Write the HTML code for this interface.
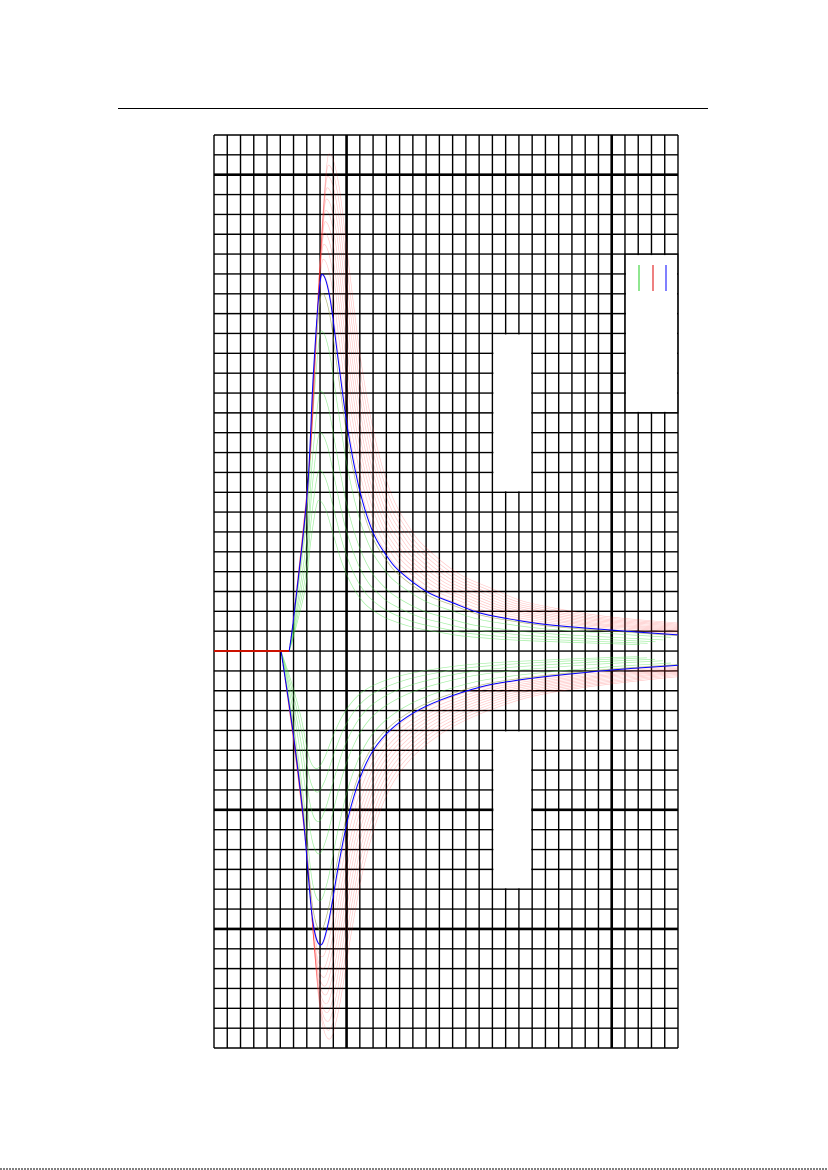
<!DOCTYPE html>
<html><head><meta charset="utf-8"><style>
html,body{margin:0;padding:0;background:#fff;}
svg{display:block;}
</style></head><body>
<svg id="chart" width="828" height="1170" xmlns="http://www.w3.org/2000/svg">
<line x1="118" y1="108.5" x2="708" y2="108.5" stroke="#000" stroke-width="1"/>
<line x1="0" y1="1169" x2="828" y2="1169" stroke="#333" stroke-width="1.2" stroke-dasharray="2,1"/>
<g id="grid"></g>
<g id="blanks"></g>
<g id="curves"></g>
<g id="legend"></g>
</svg>
<script>
// data: x in grid columns, y in grid rows above baseline
const upperX = [0, 5.67, 6.05, 7.03, 7.48, 7.94, 8.24, 8.77, 9.37, 10.13, 11.04, 12.02, 13.08, 14.06, 16.1, 18.06, 20.1, 22.6, 25.4, 29.9, 35.07];
const upperY = [0, 0, 1.91, 7.96, 13.8, 18.2, 18.94, 17.68, 14.66, 10.98, 7.96, 5.94, 4.74, 3.98, 2.97, 2.42, 1.91, 1.58, 1.31, 1.06, 0.81];
const lowerX = [0, 5.06, 5.97, 6.73, 7.41, 8.01, 8.62, 9.37, 10.13, 11.04, 12.02, 13.3, 15.04, 17.08, 20.1, 22.6, 25.4, 29.9, 35.07];
const lowerY = [0, 0, -4.13, -8.36, -13.4, -14.81, -13.7, -10.88, -8.36, -6.35, -4.99, -3.98, -3.12, -2.47, -1.81, -1.5, -1.26, -0.96, -0.71];
const redGain = [0.95, 1.0, 1.04, 1.08, 1.11, 1.14, 1.17, 1.2, 1.23, 1.26, 1.29, 1.32];
const redStretch = [1.0, 1.02, 1.04, 1.06, 1.08, 1.1, 1.12, 1.14, 1.16, 1.18, 1.2, 1.22];
const greenGain = [0.4, 0.48, 0.58, 0.69, 0.85, 0.95];
const greenStretch = [0.9, 0.92, 0.94, 0.96, 0.98, 1.0];

const NS = "http://www.w3.org/2000/svg";
const L = 214, T = 135, CW = 13.257, RH = 19.848, NC = 35, NR = 46, BASE = 26;
const xs = c => L + c * CW;
const ys = r => T + (BASE - r) * RH;
const gy = r => T + r * RH;
function mk(tag, attrs, parent) { const e = document.createElementNS(NS, tag); for (const k in attrs) e.setAttribute(k, attrs[k]); parent.appendChild(e); return e; }

const grid = document.getElementById('grid');
for (let c = 0; c <= NC; c++) {
  const thick = (c === 10 || c === 30);
  const ln = mk('line', {x1: xs(c), y1: T, x2: xs(c), y2: gy(NR), stroke: '#000', 'stroke-width': thick ? 2.6 : 1.4}, grid);
  
  
}
for (let r = 0; r <= NR; r++) {
  const thick = (r === 2 || r === 34 || r === 40);
  const ln = mk('line', {x1: L, y1: gy(r), x2: xs(NC), y2: gy(r), stroke: '#000', 'stroke-width': thick ? 2.6 : 1.4}, grid);
  
  
}
const blanks = document.getElementById('blanks');
[[21, 10, 24, 18], [21, 30, 24, 38], [31, 6, 35, 14]].forEach(b => {
  const r = mk('rect', {x: xs(b[0]) + 1, y: gy(b[1]) + 1, width: xs(b[2]) - xs(b[0]) - 2, height: gy(b[3]) - gy(b[1]) - 2, fill: '#fff'}, blanks);
  
  
});
mk('rect', {x: xs(31), y: gy(6), width: xs(35) - xs(31), height: gy(14) - gy(6), fill: 'none', stroke: '#000', 'stroke-width': 1.4}, blanks);

function pathFrom(X, Y, gain, stretch, x0) {
  const pts = X.map((x, i) => [xs(x <= x0 ? x : x0 + (x - x0) * stretch), ys(Y[i] * gain)]);
  let d = 'M' + pts[0][0] + ',' + pts[0][1];
  for (let i = 0; i < pts.length - 1; i++) {
    const p0 = pts[Math.max(1, i - 1)], p1 = pts[i], p2 = pts[i + 1], p3 = pts[Math.min(pts.length - 1, i + 2)];
    if (i === 0) { d += ' L' + p2[0] + ',' + p2[1]; continue; }
    const c1 = [p1[0] + (p2[0] - p0[0]) / 6, p1[1] + (p2[1] - p0[1]) / 6];
    const c2 = [p2[0] - (p3[0] - p1[0]) / 6, p2[1] - (p3[1] - p1[1]) / 6];
    d += ' C' + c1 + ' ' + c2 + ' ' + p2;
  }
  return d;
}
const curves = document.getElementById('curves');
mk('clipPath', {id: 'clip'}, curves);
mk('rect', {x: L, y: T, width: NC * CW, height: NR * RH}, curves.lastChild);
const cg = mk('g', {'clip-path': 'url(#clip)'}, curves);
greenGain.forEach((g, i) => {
  [[upperX, upperY, 5.67], [lowerX, lowerY, 5.06]].forEach(s => {
    const p = mk('path', {d: pathFrom(s[0], s[1], g, greenStretch[i], s[2]), fill: 'none', stroke: '#44dd44', 'stroke-opacity': 0.5, 'stroke-width': 0.7}, cg);
    
    
  });
});
redGain.forEach((g, i) => {
  [[upperX, upperY, 5.67], [lowerX, lowerY, 5.06]].forEach(s => {
    const p = mk('path', {d: pathFrom(s[0], s[1], g, redStretch[i], s[2]), fill: 'none', stroke: '#ff3333', 'stroke-opacity': 0.3, 'stroke-width': 0.6}, cg);
    
    
  });
});
[[upperX, upperY, 5.67], [lowerX, lowerY, 5.06]].forEach(s => {
  const p = mk('path', {d: pathFrom(s[0], s[1], 1, 1, s[2]), fill: 'none', stroke: '#0000ff', 'stroke-width': 1}, cg);
  
  
});
const bl = mk('line', {x1: L, y1: ys(0), x2: xs(5.67), y2: ys(0), stroke: '#cc1100', 'stroke-width': 2}, cg);



const legend = document.getElementById('legend');
[['#22cc22', 639], ['#dd0000', 653], ['#0000ff', 666]].forEach(l => {
  const e = mk('line', {x1: l[1], y1: 265, x2: l[1], y2: 291, stroke: l[0], 'stroke-width': 1}, legend);
  
  
});
</script>
</body></html>
